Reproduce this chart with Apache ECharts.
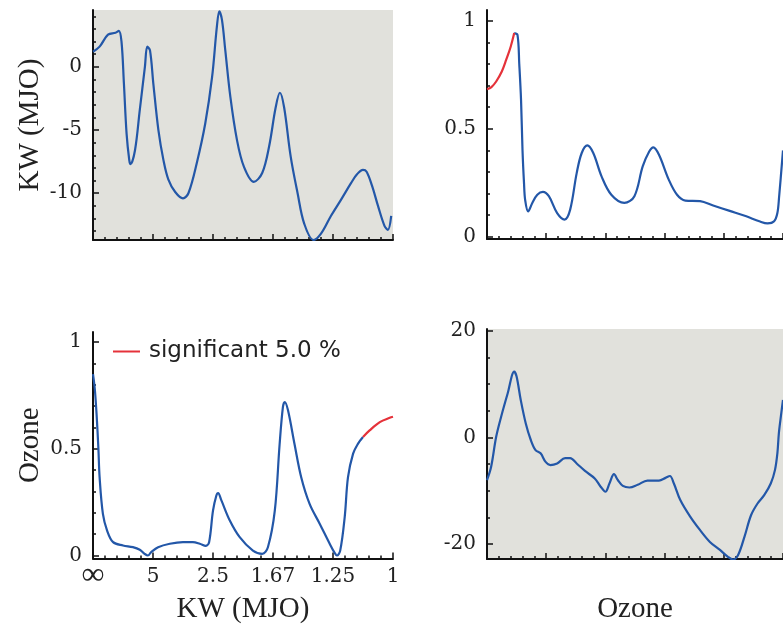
<!DOCTYPE html>
<html><head><meta charset="utf-8">
<script src="https://cdn.jsdelivr.net/npm/echarts@6/dist/echarts.min.js"></script>
<style>html,body{margin:0;padding:0;background:#fff}#c{width:783px;height:631px}</style>
</head><body><div id="c"></div>
<script>
// ---- Data (frequency axis 0..1) ----
const tlX = [0, 0.022, 0.05, 0.075, 0.086, 0.095, 0.103, 0.112, 0.121, 0.125, 0.14, 0.156, 0.173, 0.181, 0.19, 0.201, 0.218, 0.235, 0.251, 0.274, 0.3, 0.318, 0.346, 0.374, 0.397, 0.413, 0.421, 0.43, 0.441, 0.458, 0.48, 0.503, 0.536, 0.564, 0.587, 0.609, 0.623, 0.637, 0.659, 0.682, 0.704, 0.735, 0.76, 0.793, 0.827, 0.86, 0.88, 0.9, 0.912, 0.93, 0.95, 0.972, 0.983, 0.994];
const tlY = [1.2, 1.6, 2.55, 2.7, 2.85, 2.0, -1.3, -5.3, -7.4, -7.7, -6.6, -3.4, 0, 1.6, 1.3, -1.3, -5, -7.4, -8.9, -9.9, -10.4, -10, -7.6, -4.5, -0.8, 3.2, 4.4, 3.7, 1.3, -2.4, -5.8, -7.9, -9.1, -8.4, -6.3, -3.2, -2.05, -3.2, -7.1, -10, -12.4, -13.7, -13.2, -11.8, -10.5, -9.2, -8.5, -8.15, -8.3, -9.4, -11, -12.6, -12.9, -11.8];

const trRedX = [0, 0.015, 0.031, 0.05, 0.065, 0.08, 0.092];
const trRedY = [0.684, 0.693, 0.719, 0.765, 0.82, 0.88, 0.943];
const trX = [0.092, 0.103, 0.109, 0.115, 0.12, 0.125, 0.129, 0.139, 0.153, 0.17, 0.189, 0.209, 0.237, 0.262, 0.281, 0.303, 0.32, 0.339, 0.359, 0.387, 0.42, 0.464, 0.498, 0.526, 0.548, 0.562, 0.581, 0.614, 0.642, 0.67, 0.72, 0.764, 0.82, 0.876, 0.92, 0.948, 0.97, 0.981, 0.987, 1.0];
const trY = [0.943, 0.935, 0.8, 0.634, 0.40, 0.25, 0.17, 0.118, 0.157, 0.195, 0.208, 0.188, 0.11, 0.08, 0.126, 0.295, 0.388, 0.423, 0.388, 0.28, 0.195, 0.157, 0.188, 0.326, 0.395, 0.414, 0.38, 0.265, 0.195, 0.168, 0.165, 0.145, 0.12, 0.095, 0.072, 0.062, 0.072, 0.11, 0.188, 0.4];

const blX = [0, 0.006, 0.012, 0.018, 0.022, 0.033, 0.047, 0.067, 0.1, 0.133, 0.156, 0.172, 0.183, 0.194, 0.217, 0.256, 0.3, 0.333, 0.356, 0.376, 0.387, 0.4, 0.411, 0.417, 0.428, 0.456, 0.489, 0.533, 0.564, 0.583, 0.606, 0.622, 0.633, 0.639, 0.65, 0.672, 0.694, 0.722, 0.756, 0.789, 0.806, 0.813, 0.824, 0.839, 0.85, 0.867, 0.883, 0.9];
const blY = [0.85, 0.78, 0.66, 0.5, 0.367, 0.195, 0.117, 0.0625, 0.047, 0.039, 0.027, 0.008, 0.0, 0.016, 0.039, 0.055, 0.0625, 0.0625, 0.055, 0.045, 0.0625, 0.21, 0.28, 0.292, 0.258, 0.164, 0.086, 0.023, 0.008, 0.039, 0.21, 0.52, 0.695, 0.719, 0.68, 0.52, 0.367, 0.242, 0.148, 0.055, 0.011, 0.0, 0.023, 0.18, 0.367, 0.477, 0.523, 0.555];
const blRedX = [0.9, 0.922, 0.956, 0.989, 1.0];
const blRedY = [0.555, 0.586, 0.625, 0.645, 0.65];

const brX = [0, 0.014, 0.031, 0.048, 0.07, 0.092, 0.1, 0.114, 0.131, 0.148, 0.164, 0.181, 0.198, 0.214, 0.237, 0.264, 0.281, 0.303, 0.331, 0.364, 0.384, 0.4, 0.414, 0.429, 0.442, 0.459, 0.481, 0.509, 0.542, 0.581, 0.603, 0.618, 0.631, 0.653, 0.687, 0.72, 0.753, 0.787, 0.814, 0.831, 0.848, 0.87, 0.892, 0.914, 0.937, 0.959, 0.973, 0.981, 0.986, 0.993, 1.0];
const brY = [-8, -5.5, 0.1, 3.9, 8.25, 12.3, 11.4, 7, 2.6, -0.5, -2.4, -3, -4.6, -5.2, -4.9, -3.9, -3.9, -4.9, -6.3, -7.7, -9.25, -10.2, -8.6, -6.9, -8, -9.1, -9.4, -8.9, -8.1, -8.1, -7.6, -7.25, -8.6, -11.75, -14.9, -17.4, -19.6, -21.1, -22.4, -22.9, -22.1, -18.6, -14.6, -12.4, -10.8, -8.6, -6.1, -3, 0.75, 4, 7];

// ---- Tick labels ----
const xTickLabels = ['\u221e', '5', '2.5', '1.67', '1.25', '1'];
const tlMajor = [-10, -5, 0];
const tlMinor = [-13, -12, -11, -10, -9, -8, -7, -6, -5, -4, -3, -2, -1, 0, 1, 2, 3, 4];
const unitMajor = [0, 0.5, 1];
const unitMinor = [0, 0.1, 0.2, 0.3, 0.4, 0.5, 0.6, 0.7, 0.8, 0.9, 1];
const brMajor = [-20, 0, 20];
const brMinor = [-20, -15, -10, -5, 0, 5, 10, 15, 20];
const legendName = 'significant 5.0 %';

// ---- Styles ----
const BLUE = '#2357a8', RED = '#e5323a', GRAY = '#e1e1dc', INK = '#111', TXT = '#222';
const SERIF_T = 'Liberation Serif', SERIF_N = 'DejaVu Serif';

const grids = [
  {left: 93, top: 10, width: 300, height: 230, show: true, backgroundColor: GRAY, borderWidth: 0},
  {left: 487, top: 10, width: 300, height: 229, show: false},
  {left: 93, top: 332, width: 300, height: 226.5, show: false},
  {left: 487, top: 329, width: 300, height: 230, show: true, backgroundColor: GRAY, borderWidth: 0}
];

function xAxis(i, opts) {
  return Object.assign({
    gridIndex: i, type: 'value', min: 0, max: 1, interval: 0.2,
    axisLine: {show: true, onZero: false, lineStyle: {color: INK, width: 2}},
    axisTick: {show: true, inside: true, length: 6, lineStyle: {color: INK, width: 1.5}},
    minorTick: {show: true, splitNumber: 5, length: 3, lineStyle: {color: INK, width: 1.5}},
    axisLabel: {show: false},
    splitLine: {show: false}, minorSplitLine: {show: false}
  }, opts || {});
}
function yMain(i, min, max, majors, name) {
  const a = {
    gridIndex: i, type: 'value', min: min, max: max, position: 'left',
    axisLine: {show: true, onZero: false, lineStyle: {color: INK, width: 2}},
    axisTick: {show: true, inside: true, length: 6, customValues: majors, lineStyle: {color: INK, width: 1.5}},
    axisLabel: {show: true, customValues: majors, margin: 11, formatter: v => String(v),
      fontFamily: SERIF_N, fontSize: 20, color: TXT},
    splitLine: {show: false}
  };
  if (name) {
    a.name = name; a.nameLocation = 'middle'; a.nameGap = 48;
    a.nameTextStyle = {fontFamily: SERIF_T, fontSize: 29, color: TXT};
  }
  return a;
}
function yMinor(i, min, max, minors) {
  return {
    gridIndex: i, type: 'value', min: min, max: max, position: 'left',
    axisLine: {show: false},
    axisTick: {show: true, inside: true, length: 3, customValues: minors, lineStyle: {color: INK, width: 1.5}},
    axisLabel: {show: false}, splitLine: {show: false}
  };
}
const pairs = (xs, ys) => xs.map((x, k) => [x, ys[k]]);
function line(name, xi, yi, data, color) {
  return {name: name, type: 'line', xAxisIndex: xi, yAxisIndex: yi, data: data,
    smooth: 0.35, symbol: 'none', showSymbol: false,
    lineStyle: {color: color, width: 2.2}, itemStyle: {color: color}, z: 3};
}

const option = {
  animation: false,
  backgroundColor: '#fff',
  grid: grids,
  legend: {
    data: [legendName], left: 113, top: 340, padding: 0,
    icon: 'rect', itemWidth: 27, itemHeight: 2,
    textStyle: {fontFamily: 'DejaVu Sans', fontSize: 23, color: TXT, padding: [0, 0, 0, 4]}
  },
  xAxis: [
    xAxis(0),
    xAxis(1),
    xAxis(2, {
      axisLabel: {show: true, margin: 8, fontFamily: SERIF_N, fontSize: 20, color: TXT,
        formatter: v => {
          const k = Math.round(v / 0.2);
          return k === 0 ? '{inf|' + xTickLabels[k] + '}' : xTickLabels[k];
        },
        rich: {inf: {fontFamily: SERIF_T, fontSize: 32, lineHeight: 20, color: TXT, padding: [0, 0, 1, 0]}}},
      name: 'KW (MJO)', nameLocation: 'middle', nameGap: 36,
      nameTextStyle: {fontFamily: SERIF_T, fontSize: 29, color: TXT}
    }),
    xAxis(3, {
      name: 'Ozone', nameLocation: 'middle', nameGap: 36,
      nameTextStyle: {fontFamily: SERIF_T, fontSize: 29, color: TXT}
    })
  ],
  yAxis: [
    yMain(0, -13.7, 4.5, tlMajor, 'KW (MJO)'), yMinor(0, -13.7, 4.5, tlMinor),
    yMain(1, -0.01, 1.05, unitMajor), yMinor(1, -0.01, 1.05, unitMinor),
    yMain(2, -0.014, 1.047, unitMajor, 'Ozone'), yMinor(2, -0.014, 1.047, unitMinor),
    yMain(3, -22.8, 20.3, brMajor), yMinor(3, -22.8, 20.3, brMinor)
  ],
  series: [
    line('tl', 0, 0, pairs(tlX, tlY), BLUE),
    line('tr', 1, 2, pairs(trX, trY), BLUE),
    line(legendName, 1, 2, pairs(trRedX, trRedY), RED),
    line('bl', 2, 4, pairs(blX, blY), BLUE),
    line(legendName, 2, 4, pairs(blRedX, blRedY), RED),
    line('br', 3, 6, pairs(brX, brY), BLUE)
  ]
};
const chart = echarts.init(document.getElementById('c'), null, {renderer: 'canvas'});
chart.setOption(option);
</script></body></html>
